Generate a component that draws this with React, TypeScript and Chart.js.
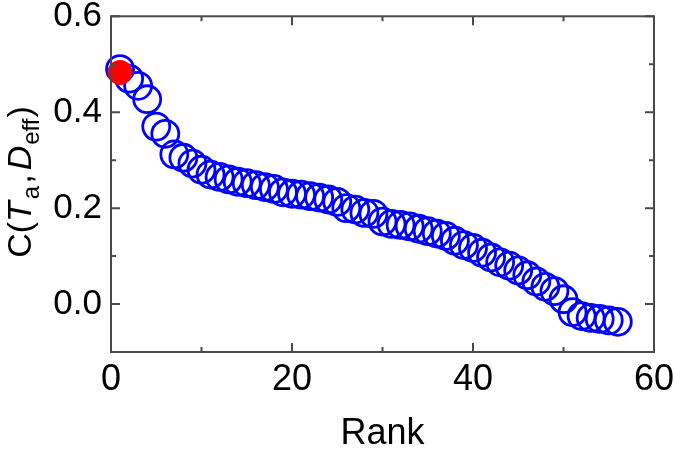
import React, { useEffect, useRef } from "react";
import { Chart, registerables } from "chart.js";

Chart.register(...registerables);

const ranks: number[] = Array.from({ length: 56 }, (_, i) => i + 1);
const corrValues: number[] = [
  0.49, 0.47, 0.455, 0.427, 0.37, 0.355, 0.312, 0.305, 0.293, 0.28,
  0.27, 0.265, 0.26, 0.255, 0.252, 0.248, 0.244, 0.24, 0.233, 0.23,
  0.228, 0.225, 0.222, 0.218, 0.213, 0.2, 0.197, 0.19, 0.188, 0.172,
  0.167, 0.165, 0.162, 0.157, 0.152, 0.147, 0.142, 0.132, 0.123, 0.117,
  0.107, 0.097, 0.087, 0.08, 0.07, 0.06, 0.047, 0.036, 0.027, 0.01,
  -0.017, -0.025, -0.029, -0.031, -0.034, -0.037,
];
const highlightRank: number[] = [1];
const highlightValue: number[] = [0.483];

const xTicks: number[] = [0, 20, 40, 60];
const xMinorTicks: number[] = [10, 30, 50];
const yTicks: number[] = [0, 0.2, 0.4, 0.6];
const yMinorTicks: number[] = [-0.1, 0.1, 0.3, 0.5];

const FONT = "'Liberation Sans', Arial, sans-serif";

const framePlugin = {
  id: "frameTicks",
  afterDatasetsDraw(chart: any) {
    const { ctx, chartArea } = chart;
    const xs = chart.scales.x;
    const ys = chart.scales.y;
    const { left, right, top, bottom } = chartArea;
    ctx.save();
    ctx.strokeStyle = "#4a4a4a";
    ctx.lineWidth = 2;
    ctx.strokeRect(left, top, right - left, bottom - top);
    const major = 9;
    const minor = 5;
    ctx.beginPath();
    const xt = (v: number, len: number) => {
      const p = xs.getPixelForValue(v);
      ctx.moveTo(p, bottom);
      ctx.lineTo(p, bottom - len);
      ctx.moveTo(p, top);
      ctx.lineTo(p, top + len);
    };
    const yt = (v: number, len: number) => {
      const p = ys.getPixelForValue(v);
      ctx.moveTo(left, p);
      ctx.lineTo(left + len, p);
      ctx.moveTo(right, p);
      ctx.lineTo(right - len, p);
    };
    xTicks.forEach((v) => xt(v, major));
    xMinorTicks.forEach((v) => xt(v, minor));
    yTicks.forEach((v) => yt(v, major));
    yMinorTicks.forEach((v) => yt(v, minor));
    ctx.stroke();
    ctx.restore();
  },
  afterDraw(chart: any) {
    const { ctx } = chart;
    const big = `34px ${FONT}`;
    const bigIt = `italic 34px ${FONT}`;
    const small = `24px ${FONT}`;
    const segs = [
      { t: "C(", f: big, dy: 0, gap: 0 },
      { t: "T", f: bigIt, dy: 0, gap: 2 },
      { t: "a", f: small, dy: 8, gap: 2 },
      { t: ",", f: big, dy: 0, gap: 4 },
      { t: "D", f: bigIt, dy: 0, gap: 1 },
      { t: "eff", f: small, dy: 8, gap: 1 },
      { t: ")", f: big, dy: 0, gap: 0 },
    ];
    ctx.save();
    let total = 0;
    const widths = segs.map((s) => {
      ctx.font = s.f;
      const w = ctx.measureText(s.t).width + s.gap;
      total += w;
      return w;
    });
    ctx.translate(31, 182);
    ctx.rotate(-Math.PI / 2);
    ctx.fillStyle = "#000";
    ctx.textBaseline = "alphabetic";
    ctx.textAlign = "left";
    let x = -total / 2;
    segs.forEach((s, i) => {
      ctx.font = s.f;
      ctx.fillText(s.t, x, s.dy);
      x += widths[i];
    });
    ctx.restore();
  },
};

export default function App() {
  const ref = useRef<HTMLCanvasElement | null>(null);
  useEffect(() => {
    if (!ref.current) return;
    const chart = new Chart(ref.current, {
      type: "scatter",
      data: {
        datasets: [
          {
            label: "highlight",
            data: highlightRank.map((r, i) => ({ x: r, y: highlightValue[i] })),
            pointRadius: 12.5,
            pointBackgroundColor: "#ff0000",
            pointBorderColor: "#ff0000",
            pointBorderWidth: 0,
            order: 0,
          },
          {
            label: "C",
            data: ranks.map((r, i) => ({ x: r, y: corrValues[i] })),
            pointRadius: 13.5,
            pointBackgroundColor: "rgba(0,0,0,0)",
            pointBorderColor: "#0000ff",
            pointBorderWidth: 2.8,
            order: 1,
          },
        ],
      },
      options: {
        animation: false,
        responsive: false,
        maintainAspectRatio: false,
        clip: false as any,
        layout: { padding: { left: 0, top: 16, right: 21, bottom: 0 } },
        plugins: { legend: { display: false }, tooltip: { enabled: false } },
        scales: {
          x: {
            type: "linear",
            min: 0,
            max: 60,
            grid: { display: false, drawTicks: false },
            border: { display: false },
            afterBuildTicks: (s: any) => {
              s.ticks = xTicks.map((v) => ({ value: v }));
            },
            afterFit: (s: any) => {
              s.height = 100;
              s.paddingLeft = 0;
              s.paddingRight = 0;
            },
            ticks: {
              padding: 6,
              color: "#000",
              font: { family: FONT, size: 36 },
              maxRotation: 0,
              callback: (v: any) => String(v),
            },
            title: {
              display: true,
              text: "Rank",
              color: "#000",
              font: { family: FONT, size: 36, lineHeight: 1 },
              padding: { top: 0, bottom: 0 },
            },
          },
          y: {
            type: "linear",
            min: -0.1,
            max: 0.6,
            grid: { display: false, drawTicks: false },
            border: { display: false },
            afterBuildTicks: (s: any) => {
              s.ticks = yTicks.map((v) => ({ value: v }));
            },
            afterFit: (s: any) => {
              s.width = 111;
              s.paddingTop = 0;
              s.paddingBottom = 0;
            },
            ticks: {
              padding: 9,
              color: "#000",
              font: { family: FONT, size: 35 },
              callback: (v: any) => Number(v).toFixed(1),
            },
          },
        },
      },
      plugins: [framePlugin],
    });
    return () => chart.destroy();
  }, []);
  return (
    <div style={{ position: "fixed", left: 0, top: 0, width: 675, height: 452, background: "#fff" }}>
      <canvas ref={ref} width={675} height={452} style={{ width: 675, height: 452 }} />
    </div>
  );
}
